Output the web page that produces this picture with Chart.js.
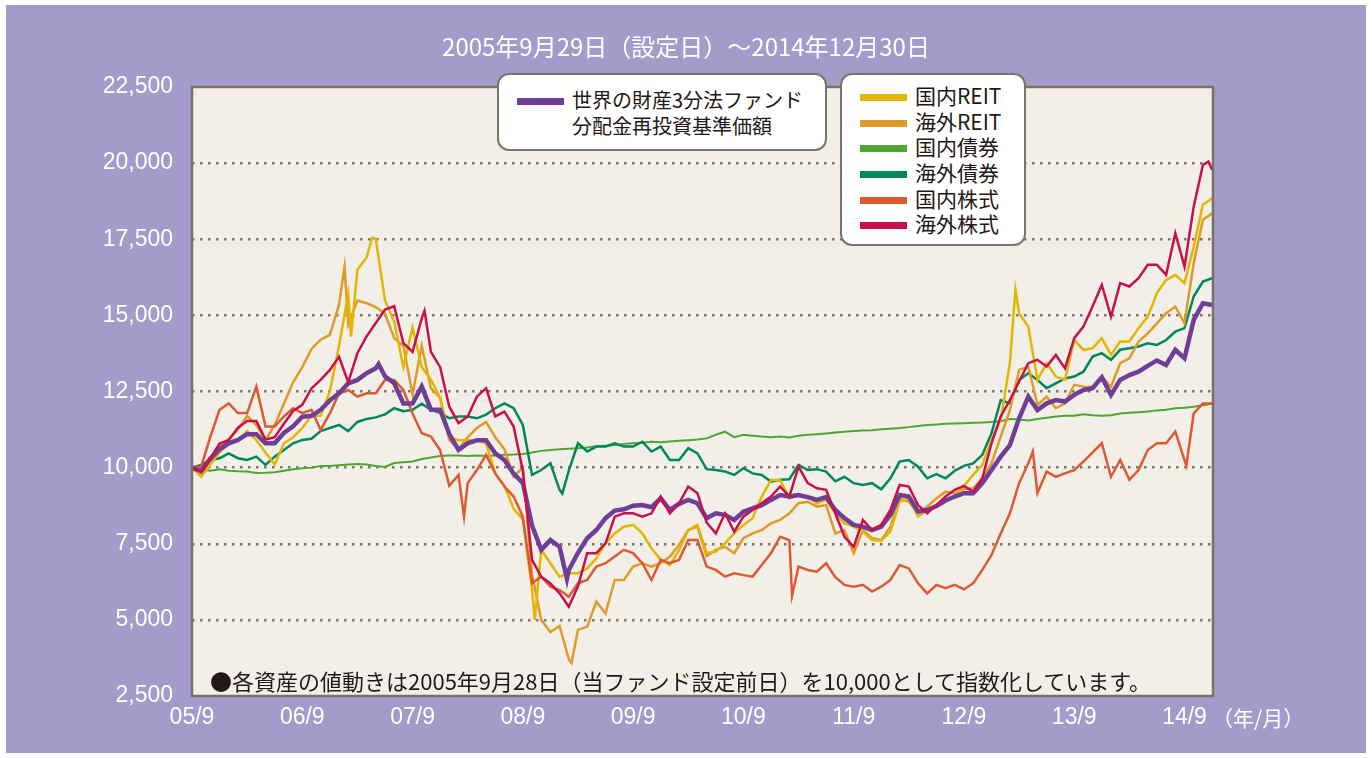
<!DOCTYPE html>
<html lang="ja">
<head>
<meta charset="utf-8">
<script src="https://cdn.jsdelivr.net/npm/chart.js@4.4.1/dist/chart.umd.min.js"></script>
<style>
html, body { margin: 0; padding: 0; background: #ffffff; }
#wrap { position: relative; width: 1372px; height: 758px; overflow: hidden; font-family: "Noto Sans CJK JP", sans-serif; }
#bg { position: absolute; left: 6px; top: 5px; width: 1360px; height: 748px; background: #a59bcb; }
canvas { position: absolute; left: 0; top: 0; }
.title { position: absolute; left: 0; width: 1372px; top: 30px; text-align: center; color: #fff; font-size: 24px; line-height: 32px; }
.box { position: absolute; background: #fff; border: 2.5px solid #7d7468; border-radius: 12px; box-sizing: border-box; }
.sw { position: absolute; height: 7px; width: 47px; }
.lt { position: absolute; font-size: 21px; line-height: 26px; color: #231815; white-space: nowrap; }
.lt1 { font-size: 20px; }
.note { position: absolute; left: 210px; top: 666px; font-size: 22px; line-height: 28px; color: #231815; white-space: nowrap; }
.unit { position: absolute; left: 1212px; top: 703px; font-size: 21px; line-height: 28px; color: #fff; }
</style>
</head>
<body>
<div id="wrap">
  <div id="bg"></div>
  <canvas id="finalChart" width="1372" height="758"></canvas>
  <div class="title">2005年9月29日（設定日）～2014年12月30日</div>

  <div class="box" style="left:497px;top:73px;width:330px;height:78px;">
    <div class="sw" style="left:18px;top:23px;background:#6f3f98;"></div>
    <div class="lt lt1" style="left:73px;top:12px;">世界の財産3分法ファンド</div>
    <div class="lt lt1" style="left:73px;top:38px;">分配金再投資基準価額</div>
  </div>

  <div class="box" style="left:840px;top:73px;width:186px;height:173px;">
    <div class="sw" style="left:18px;top:19px;background:#e3b600;"></div>
    <div class="lt" style="left:73px;top:7px;">国内REIT</div>
    <div class="sw" style="left:18px;top:45px;background:#e09a2a;"></div>
    <div class="lt" style="left:73px;top:33px;">海外REIT</div>
    <div class="sw" style="left:18px;top:70px;background:#50a532;"></div>
    <div class="lt" style="left:73px;top:58px;">国内債券</div>
    <div class="sw" style="left:18px;top:96px;background:#00885a;"></div>
    <div class="lt" style="left:73px;top:84px;">海外債券</div>
    <div class="sw" style="left:18px;top:122px;background:#dc5a32;"></div>
    <div class="lt" style="left:73px;top:110px;">国内株式</div>
    <div class="sw" style="left:18px;top:147px;background:#c8104e;"></div>
    <div class="lt" style="left:73px;top:135px;">海外株式</div>
  </div>

  <div class="note">●各資産の値動きは2005年9月28日（当ファンド設定前日）を10,000として指数化しています。</div>
  <div class="unit">（年/月）</div>
</div>

<script>
// months since 2005/9/28 (0 = start, 111 = 2014/12)
var months = [];
for (var i = 0; i <= 111; i++) months.push(i);

var xTicks = [0, 12, 24, 36, 48, 60, 72, 84, 96, 108];
var xLabels = ['05/9', '06/9', '07/9', '08/9', '09/9', '10/9', '11/9', '12/9', '13/9', '14/9'];
var yTicks = [2500, 5000, 7500, 10000, 12500, 15000, 17500, 20000, 22500];

var fund = [10000, 9880, 10300, 10600, 10800, 10910, 11100, 11100, 10800, 10800, 11140, 11360, 11670, 11700, 11900, 12210, 12440, 12770, 12880, 13100,
  13260, 13000, 12770, 12110, 12110, 12660, 11900, 11900, 11100, 10580, 10800, 10900, 10900, 10470, 10250, 9800, 9500, 8100, 7300, 7620,
  7400, 6640, 7200, 7680, 7950, 8340, 8590, 8630, 8750, 8770, 8700, 8990, 8610, 8810, 8940, 8830, 8340, 8500, 8450, 8280,
  8550, 8660, 8770, 8940, 9100, 9050, 9100, 9030, 8940, 9030, 8610, 8340, 8120, 8060, 7950, 8060, 8450, 9100, 9050, 8560,
  8610, 8740, 8920, 9050, 9160, 9160, 9490, 9920, 10360, 10740, 11620, 12330, 11890, 12110, 12220, 12170, 12390, 12550, 12610, 12970,
  12390, 12880, 13040, 13150, 13340, 13520, 13370, 13870, 13590, 14850, 15400, 15340];
var fundPeaksX = [20.3, 40.8];
var fundPeaksY = [13400, 6350];

var jReit = [10000, 9700, 10100, 10500, 10800, 10900, 11200, 10900, 10500, 10100, 10800, 11000, 11300, 11700, 11700, 12500, 14000, 15700, 16500, 16900,
  17500, 15500, 14800, 13300, 14600, 13300, 12900, 12300, 11000, 10900, 10900, 10900, 10800, 9800, 9400, 8650, 8300, 6000, 7300, 6860,
  6420, 6530, 6530, 6690, 7020, 7510, 7840, 8060, 8120, 7840, 7350, 6970, 6800, 7300, 7950, 8120, 7200, 7240, 7510, 7840,
  8120, 8340, 9050, 9590, 9590, 8990, 9100, 9050, 8830, 8940, 8500, 8170, 8060, 7900, 7620, 7600, 7900, 8880, 8990, 8390,
  8610, 8720, 8880, 9050, 9400, 9760, 10090, 10910, 11570, 13430, 15070, 14630, 12880, 13430, 12990, 12880, 14190, 13870, 13920, 14250,
  13700, 14140, 14140, 14580, 14960, 15730, 16160, 16330, 16060, 17260, 18630, 18850];
var jReitPeaksX = [17.3, 19.6, 37.3, 89.6];
var jReitPeaksY = [14300, 17550, 5000, 15850];

var fReit = [10000, 9800, 10300, 10700, 10950, 11250, 11700, 11400, 10900, 11400, 12100, 12800, 13300, 13900, 14200, 14360, 15350, 14700, 15490, 15400,
  15270, 15060, 14250, 14000, 12400, 14000, 12600, 12300, 10900, 10600, 11000, 11300, 11500, 11000, 10600, 9700, 10000, 6500, 5000, 4600,
  4800, 3700, 4670, 4780, 5600, 5210, 6310, 6310, 6750, 6860, 6750, 6860, 7080, 7460, 7950, 8060, 7100, 7300, 7400, 7190,
  7680, 7840, 7950, 8170, 8280, 8500, 8830, 8880, 8720, 8770, 7840, 7950, 7190, 7950, 7680, 7620, 8060, 8990, 8880, 8500,
  8720, 8990, 9210, 9160, 9300, 9320, 9650, 10140, 11020, 11890, 13210, 13320, 12060, 12330, 11950, 12110, 12720, 12660, 12650, 12990,
  12660, 13430, 13590, 14140, 14410, 14740, 15070, 15290, 14740, 16710, 18140, 18350];
var fReitPeaksX = [16.6, 41.3];
var fReitPeaksY = [16600, 3580];

var jBond = [10000, 9950, 9900, 9950, 9900, 9880, 9870, 9820, 9830, 9850, 9900, 9950, 9980, 10000, 10050, 10050, 10080, 10100, 10120, 10100,
  10050, 10020, 10150, 10180, 10200, 10280, 10330, 10380, 10400, 10400, 10380, 10400, 10380, 10400, 10420, 10430, 10450, 10500, 10550, 10580,
  10600, 10620, 10640, 10660, 10700, 10720, 10740, 10780, 10800, 10820, 10850, 10830, 10860, 10880, 10900, 10920, 10960, 11080, 11180, 11000,
  11080, 11050, 11020, 11000, 11020, 10990, 11050, 11080, 11100, 11120, 11150, 11180, 11200, 11220, 11230, 11260, 11280, 11300, 11330, 11370,
  11400, 11420, 11440, 11450, 11460, 11470, 11480, 11500, 11520, 11600, 11580, 11550, 11600, 11640, 11680, 11700, 11700, 11750, 11720, 11700,
  11720, 11780, 11800, 11820, 11840, 11880, 11900, 11950, 11970, 12000, 12050, 12100];

var fBond = [10000, 10090, 10250, 10310, 10470, 10310, 10250, 10360, 10090, 10360, 10580, 10800, 10910, 10950, 11200, 11300, 11400, 11200, 11500, 11600,
  11650, 11750, 11950, 11850, 11900, 12100, 11900, 11800, 11620, 11680, 11680, 11620, 11740, 11950, 12110, 11950, 11400, 9760, 9920, 10140,
  9270, 9900, 10800, 10530, 10690, 10690, 10800, 10690, 10690, 10850, 10530, 10690, 10250, 10250, 10640, 10470, 9950, 9920, 9870, 9760,
  9980, 9810, 9760, 9540, 9600, 9620, 10090, 9920, 9950, 9870, 9550, 9700, 9490, 9430, 9490, 9290, 9650, 10200, 10250, 10030,
  9650, 9790, 9650, 9900, 10060, 10140, 10420, 11130, 12220, 12110, 12880, 13100, 12880, 12610, 12770, 12930, 12990, 13150, 13650, 13760,
  13540, 13870, 13920, 13980, 14080, 14030, 14190, 14470, 14580, 15620, 16110, 16220];
var fBondPeaksX = [40.3];
var fBondPeaksY = [9150];

var jStock = [10000, 10030, 11020, 11900, 12110, 11790, 11790, 12660, 11350, 11350, 11680, 11950, 11790, 11900, 11240, 11780, 12440, 12550, 12330, 12440,
  12440, 12880, 12880, 12550, 11780, 11130, 11020, 10580, 9400, 9760, 9490, 9920, 10420, 9810, 9380, 9050, 8390, 6200, 6420, 6090,
  5980, 5760, 6200, 6310, 6750, 6860, 7080, 7300, 7190, 6860, 6310, 6970, 6860, 6970, 7620, 7620, 6750, 6640, 6420, 6530,
  6470, 6420, 6800, 7190, 7730, 7620, 6750, 6640, 6580, 6860, 6400, 6150, 6090, 6150, 5930, 6090, 6310, 6800, 6690, 6200,
  5870, 6150, 6040, 6150, 6000, 6200, 6640, 7130, 7840, 8500, 9490, 10140, 9160, 9870, 9700, 9810, 9920, 10200, 10500, 10800,
  9700, 10250, 9600, 9920, 10580, 10800, 10800, 11180, 10250, 11780, 12110, 12110];
var jStockPeaksX = [29.6, 65.3, 91.5, 108.2];
var jStockPeaksY = [8390, 5800, 10530, 10070];

var fStock = [10000, 9880, 10300, 10790, 10900, 11310, 11530, 11530, 10920, 11000, 11440, 11860, 12060, 12600, 12880, 13210, 13640, 12800, 13760, 14310,
  14750, 15190, 15300, 14090, 13800, 14900, 13800, 13300, 12000, 11460, 11680, 12330, 12610, 11680, 11840, 11350, 9900, 6970, 6420, 6200,
  5870, 5430, 6100, 7190, 7190, 7510, 8390, 8500, 8500, 8390, 8500, 9050, 8500, 8830, 9380, 9160, 8200, 7840, 8500, 7900,
  8390, 8610, 8830, 9050, 9380, 9050, 10030, 9490, 9320, 9270, 8500, 7730, 7400, 8280, 7950, 8120, 8610, 9430, 9380, 8770,
  8500, 8770, 9050, 9270, 9400, 9210, 9650, 10800, 11680, 12220, 12830, 13430, 13540, 13320, 13700, 13260, 14250, 14630, 15300, 16000,
  14960, 16060, 15950, 16220, 16660, 16660, 16330, 17700, 16600, 18570, 19940, 19780];
var fStockPeaksX = [25.3, 110.6];
var fStockPeaksY = [15150, 20050];

function toPoints(arr, px, py) {
  var pts = arr.map(function (v, i) { return { x: months[i], y: v }; });
  (px || []).forEach(function (x, i) { pts.push({ x: x, y: py[i] }); });
  pts.sort(function (a, b) { return a.x - b.x; });
  return pts;
}

const plotFrame = {
  id: 'plotFrame',
  beforeDraw(chart) {
    const a = chart.chartArea, c = chart.ctx;
    c.save();
    c.fillStyle = '#f2efe8';
    c.fillRect(a.left, a.top, a.right - a.left, a.bottom - a.top);
    c.restore();
  },
  afterDatasetsDraw(chart) {
    const a = chart.chartArea, c = chart.ctx;
    c.save();
    c.strokeStyle = '#7b7064';
    c.lineWidth = 2.5;
    c.strokeRect(a.left, a.top, a.right - a.left, a.bottom - a.top);
    c.restore();
  }
};

function ds(label, pts, color, width) {
  return { label: label, data: pts, borderColor: color, backgroundColor: color, borderWidth: width, fill: false };
}

var ctx = document.getElementById('finalChart');
var chart = new Chart(ctx, {
  type: 'line',
  data: {
    datasets: [
      ds('海外株式', toPoints(fStock, fStockPeaksX, fStockPeaksY), '#c8104e', 2.5),
      ds('世界の財産3分法ファンド', toPoints(fund, fundPeaksX, fundPeaksY), '#6f3f98', 4.5),
      ds('国内株式', toPoints(jStock, jStockPeaksX, jStockPeaksY), '#dc5a32', 2.5),
      ds('国内REIT', toPoints(jReit, jReitPeaksX, jReitPeaksY), '#e3b600', 2.5),
      ds('海外REIT', toPoints(fReit, fReitPeaksX, fReitPeaksY), '#e09a2a', 2.5),
      ds('海外債券', toPoints(fBond, fBondPeaksX, fBondPeaksY), '#00885a', 2.5),
      ds('国内債券', toPoints(jBond), '#50a532', 2)
    ]
  },
  options: {
    responsive: false,
    devicePixelRatio: 1,
    animation: false,
    layout: { padding: { left: 0, right: 159, top: 87, bottom: 0 } },
    elements: { point: { radius: 0 }, line: { tension: 0 } },
    plugins: { legend: { display: false }, tooltip: { enabled: false } },
    scales: {
      x: {
        type: 'linear',
        min: 0,
        max: 111.1,
        afterBuildTicks: function (s) { s.ticks = xTicks.map(function (v) { return { value: v }; }); },
        afterFit: function (s) { s.height = 62; },
        grid: { display: false, drawTicks: false },
        border: { display: false },
        ticks: {
          color: '#ffffff',
          padding: 8,
          maxRotation: 0,
          autoSkip: false,
          font: { family: 'Liberation Sans', size: 23 },
          callback: function (v) { return xLabels[xTicks.indexOf(v)]; }
        }
      },
      y: {
        min: 2500,
        max: 22500,
        afterBuildTicks: function (s) { s.ticks = yTicks.map(function (v) { return { value: v }; }); },
        afterFit: function (s) { s.width = 192; },
        grid: {
          drawTicks: false,
          lineWidth: 2.5,
          color: function (c) { return (c.tick && (c.tick.value === 2500 || c.tick.value === 22500)) ? 'rgba(0,0,0,0)' : '#7d766b'; }
        },
        border: { display: false, dash: [2.5, 5.5] },
        ticks: {
          color: '#ffffff',
          padding: 19,
          font: { family: 'Liberation Sans', size: 23 },
          callback: function (v) { return v.toLocaleString('en-US'); }
        }
      }
    }
  },
  plugins: [plotFrame]
});
</script>
</body>
</html>
